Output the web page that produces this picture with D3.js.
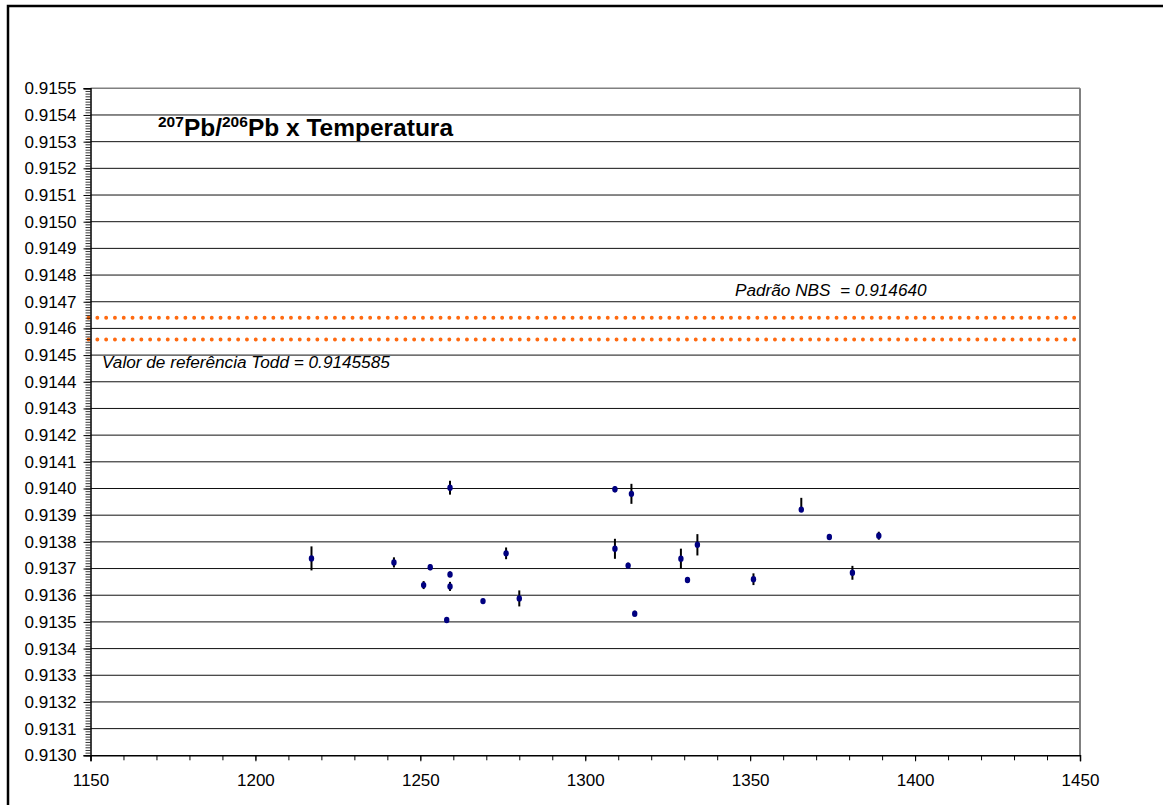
<!DOCTYPE html>
<html>
<head>
<meta charset="utf-8">
<script src="https://cdn.jsdelivr.net/npm/d3@7"></script>
<style>
  body { margin: 0; background: #fff; }
  svg { display: block; font-family: "Liberation Sans", Arial, sans-serif; }
</style>
</head>
<body>
<svg id="chart" width="1163" height="805"></svg>
<script>
// temperatura (x) and 207Pb/206Pb ratio (y), with error bar sizes
const temps = [1217, 1242, 1251, 1253, 1258, 1259, 1259, 1259, 1269, 1276, 1280, 1309,
  1309, 1313, 1314, 1315, 1329, 1331, 1334, 1351, 1365.5, 1374, 1381, 1389];
const ratios = [0.913738, 0.913723, 0.913638, 0.913705, 0.913507, 0.914003, 0.913678, 0.913633,
  0.913578, 0.913757, 0.913588, 0.913997, 0.913774, 0.913711, 0.913980, 0.913531,
  0.913737, 0.913657, 0.913789, 0.913660, 0.913921, 0.913818, 0.913684, 0.913823];
const errPlus = [0.000045, 0.000019, 0.000015, 0.000011, 0, 0.000026, 0.000011, 0.000017,
  0.000008, 0.000022, 0.000030, 0.000011, 0.0000375, 0.000011, 0.0000375, 0.000011,
  0.0000375, 0.000011, 0.000040, 0.000022, 0.000044, 0.000011, 0.000026, 0.000015];
const errMinus = [0.000045, 0.000019, 0.000015, 0.000011, 0, 0.000026, 0.000011, 0.000017,
  0.000008, 0.000022, 0.000030, 0.000011, 0.0000375, 0.000011, 0.0000375, 0.000011,
  0.0000375, 0.000011, 0.000040, 0.000022, 0, 0.000011, 0.000026, 0.000015];

// reference lines
const refValues = [0.914640, 0.9145585];
const refLabels = ["Padrão NBS \u00a0= 0.914640", "Valor de referência Todd = 0.9145585"];

const xTicks = [1150, 1200, 1250, 1300, 1350, 1400, 1450];
const yTicks = d3.range(0, 26).map(i => +(0.9130 + i * 0.0001).toFixed(4));

/* Set up */
const svg = d3.select("#chart");
const plotLeft = 90.5, plotRight = 1080, plotTop = 88.3, plotBottom = 755.3;
const fontSize = "17px";

const x = d3.scaleLinear().domain([1150, 1450]).range([plotLeft, plotRight]);
const y = d3.scaleLinear().domain([0.9130, 0.9155]).range([plotBottom, plotTop]);

// outer frame
svg.append("rect")
  .attr("x", 8).attr("y", 6).attr("width", 1300).attr("height", 1000)
  .attr("fill", "none").attr("stroke", "#000").attr("stroke-width", 2.5);

// gridlines
svg.append("g")
  .selectAll("line")
  .data(yTicks.slice(1, -1))
  .join("line")
  .attr("x1", plotLeft).attr("x2", plotRight)
  .attr("y1", d => y(d)).attr("y2", d => y(d))
  .attr("stroke", "#111").attr("stroke-width", 1);

// plot area top & right borders
svg.append("line")
  .attr("x1", plotLeft).attr("x2", plotRight).attr("y1", plotTop).attr("y2", plotTop)
  .attr("stroke", "#808080").attr("stroke-width", 1.5);
svg.append("line")
  .attr("x1", plotRight).attr("x2", plotRight).attr("y1", plotTop).attr("y2", plotBottom)
  .attr("stroke", "#808080").attr("stroke-width", 2);

// reference dotted lines
svg.append("g")
  .selectAll("line")
  .data(refValues)
  .join("line")
  .attr("x1", x(1150) - 2).attr("x2", x(1450))
  .attr("y1", d => y(d)).attr("y2", d => y(d))
  .attr("stroke", "#ff6a10")
  .attr("stroke-width", 3.8)
  .attr("stroke-linecap", "round")
  .attr("stroke-dasharray", "0.1 8.7");

// y axis
const yMinor = d3.range(0, 251).map(i => 0.9130 + i * 0.00001);
svg.append("g")
  .attr("transform", `translate(${plotLeft},0)`)
  .call(d3.axisLeft(y).tickValues(yMinor).tickSize(5).tickFormat(""))
  .call(g => g.select(".domain").remove())
  .call(g => g.selectAll("line").attr("stroke", "#000").attr("stroke-width", 0.8));
svg.append("g")
  .attr("transform", `translate(${plotLeft},0)`)
  .call(d3.axisLeft(y).tickValues(yTicks).tickSize(7).tickPadding(7).tickFormat(d3.format(".4f")))
  .call(g => g.select(".domain").attr("stroke", "#000").attr("stroke-width", 1.5))
  .call(g => g.selectAll("line").attr("stroke", "#000"))
  .call(g => g.selectAll("text")
    .attr("font-size", fontSize).attr("fill", "#000")
    .attr("font-family", "Liberation Sans, Arial, sans-serif"));

// x axis
const xMinor = d3.range(1150, 1451, 10);
svg.append("g")
  .attr("transform", `translate(0,${plotBottom})`)
  .call(d3.axisBottom(x).tickValues(xMinor).tickSize(5).tickFormat(""))
  .call(g => g.select(".domain").remove())
  .call(g => g.selectAll("line").attr("stroke", "#000"));
svg.append("g")
  .attr("transform", `translate(0,${plotBottom})`)
  .call(d3.axisBottom(x).tickValues(xTicks).tickSize(6).tickPadding(13).tickFormat(d3.format("d")))
  .call(g => g.select(".domain").attr("stroke", "#000").attr("stroke-width", 1.5))
  .call(g => g.selectAll("line").attr("stroke", "#000"))
  .call(g => g.selectAll("text")
    .attr("font-size", fontSize).attr("fill", "#000")
    .attr("font-family", "Liberation Sans, Arial, sans-serif"));

// error bars
const points = temps.map((t, i) => ({ t, r: ratios[i], ep: errPlus[i], em: errMinus[i] }));
svg.append("g")
  .selectAll("line")
  .data(points.filter(d => d.ep + d.em > 0))
  .join("line")
  .attr("x1", d => x(d.t)).attr("x2", d => x(d.t))
  .attr("y1", d => y(d.r + d.ep)).attr("y2", d => y(d.r - d.em))
  .attr("stroke", "#000").attr("stroke-width", 2);

// markers
svg.append("g")
  .selectAll("ellipse")
  .data(points)
  .join("ellipse")
  .attr("cx", d => x(d.t)).attr("cy", d => y(d.r))
  .attr("rx", 2.7).attr("ry", 3.2)
  .attr("fill", "#000080");

// annotations
svg.append("text")
  .attr("x", 735).attr("y", y(refValues[0]) - 22)
  .attr("font-size", "17.2px").attr("font-style", "italic")
  .text(refLabels[0]);
svg.append("text")
  .attr("x", 102).attr("y", y(refValues[1]) + 29)
  .attr("font-size", "17.2px").attr("font-style", "italic")
  .text(refLabels[1]);

// title
const title = svg.append("text")
  .attr("x", 158).attr("y", 136)
  .attr("font-size", "24.5px").attr("font-weight", "bold");
title.append("tspan").attr("font-size", "15.5px").attr("dy", "-9").text("207");
title.append("tspan").attr("dy", "9").text("Pb/");
title.append("tspan").attr("font-size", "15.5px").attr("dy", "-9").text("206");
title.append("tspan").attr("dy", "9").text("Pb x Temperatura");
</script>
</body>
</html>
